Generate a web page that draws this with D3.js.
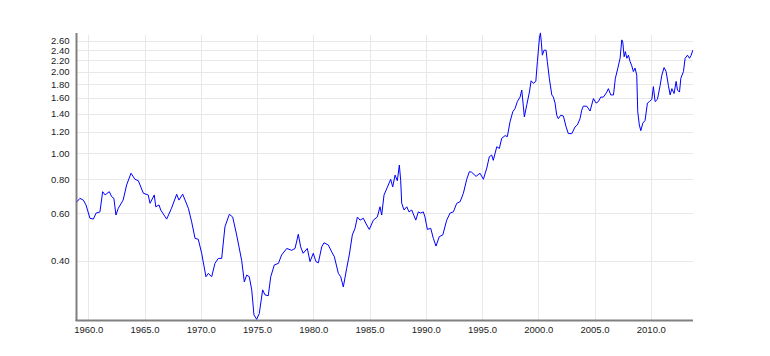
<!DOCTYPE html>
<html>
<head>
<meta charset="utf-8">
<script src="https://cdn.jsdelivr.net/npm/d3@7"></script>
<style>
  html, body { margin: 0; padding: 0; background: #fff; }
  svg { display: block; }
</style>
</head>
<body>
<svg id="chart" width="770" height="356"></svg>
<script>
const years = [1959.0,1959.26,1959.56,1959.8,1960.15,1960.45,1960.7,1961.04,1961.28,1961.5,1961.87,1962.08,1962.28,1962.46,1962.67,1963.1,1963.41,1963.8,1964.15,1964.45,1964.9,1965.33,1965.49,1965.87,1966.0,1966.29,1966.44,1966.97,1967.4,1967.86,1968.06,1968.39,1968.9,1969.19,1969.49,1969.78,1970.08,1970.46,1970.67,1970.97,1971.26,1971.56,1971.86,1972.15,1972.54,1972.84,1973.19,1973.64,1973.87,1974.08,1974.31,1974.53,1974.73,1974.97,1975.2,1975.5,1975.71,1976.0,1976.22,1976.54,1976.9,1977.19,1977.64,1978.08,1978.38,1978.67,1978.88,1979.1,1979.47,1979.71,1980.0,1980.24,1980.45,1980.75,1980.95,1981.34,1981.64,1981.87,1982.23,1982.44,1982.67,1982.97,1983.2,1983.47,1983.71,1983.92,1984.16,1984.45,1984.75,1984.98,1985.34,1985.69,1985.93,1986.08,1986.29,1986.67,1986.88,1987.06,1987.27,1987.47,1987.65,1987.77,1987.86,1988.07,1988.31,1988.51,1988.75,1989.11,1989.34,1989.55,1989.78,1989.93,1990.14,1990.44,1990.67,1990.91,1991.2,1991.51,1991.86,1992.16,1992.45,1992.75,1993.05,1993.34,1993.64,1993.87,1994.07,1994.47,1994.82,1995.12,1995.42,1995.65,1995.86,1996.0,1996.31,1996.54,1996.75,1997.05,1997.25,1997.49,1997.73,1997.93,1998.14,1998.38,1998.53,1998.67,1998.76,1998.98,1999.21,1999.36,1999.56,1999.78,1999.92,2000.1,2000.19,2000.27,2000.36,2000.51,2000.69,2000.8,2000.98,2001.2,2001.34,2001.49,2001.64,2001.78,2002.0,2002.23,2002.47,2002.67,2002.98,2003.27,2003.47,2003.71,2003.86,2004.0,2004.31,2004.6,2004.9,2005.14,2005.34,2005.55,2005.79,2006.09,2006.23,2006.44,2006.68,2006.85,2007.07,2007.27,2007.42,2007.51,2007.63,2007.74,2007.87,2008.01,2008.16,2008.31,2008.45,2008.6,2008.75,2008.84,2008.98,2009.11,2009.29,2009.49,2009.7,2009.88,2010.09,2010.23,2010.38,2010.59,2010.83,2010.98,2011.18,2011.36,2011.56,2011.72,2011.87,2012.07,2012.25,2012.37,2012.55,2012.67,2012.9,2013.05,2013.26,2013.44,2013.59,2013.73];
const values = [0.661,0.68,0.67,0.643,0.574,0.57,0.60,0.606,0.72,0.70,0.72,0.69,0.68,0.59,0.625,0.67,0.762,0.842,0.80,0.79,0.71,0.70,0.652,0.70,0.633,0.643,0.616,0.57,0.625,0.704,0.67,0.705,0.625,0.557,0.484,0.48,0.426,0.349,0.359,0.349,0.391,0.408,0.408,0.534,0.594,0.58,0.498,0.40,0.334,0.354,0.349,0.312,0.252,0.243,0.255,0.312,0.299,0.297,0.349,0.386,0.391,0.42,0.444,0.437,0.444,0.501,0.45,0.426,0.444,0.397,0.426,0.397,0.393,0.45,0.466,0.457,0.431,0.414,0.359,0.349,0.32,0.375,0.42,0.498,0.527,0.58,0.565,0.574,0.542,0.522,0.565,0.58,0.633,0.59,0.70,0.762,0.80,0.75,0.829,0.79,0.903,0.79,0.652,0.616,0.633,0.606,0.616,0.565,0.606,0.60,0.606,0.58,0.522,0.527,0.484,0.453,0.491,0.498,0.565,0.60,0.606,0.652,0.661,0.71,0.80,0.853,0.85,0.82,0.842,0.80,0.88,0.97,0.983,0.94,1.055,1.04,1.134,1.16,1.15,1.306,1.42,1.46,1.55,1.61,1.71,1.49,1.36,1.51,1.68,1.85,1.81,1.84,2.18,2.66,2.78,2.57,2.30,2.40,2.40,2.18,1.89,1.64,1.61,1.53,1.38,1.34,1.38,1.37,1.25,1.18,1.18,1.25,1.27,1.34,1.44,1.49,1.49,1.43,1.59,1.53,1.55,1.61,1.61,1.68,1.73,1.64,1.64,1.89,2.06,2.24,2.62,2.57,2.27,2.37,2.24,2.30,2.18,2.10,2.0,2.06,1.94,1.42,1.27,1.21,1.29,1.32,1.53,1.55,1.58,1.76,1.55,1.58,1.78,1.94,2.07,2.0,1.78,1.64,1.73,1.66,1.84,1.71,1.68,1.89,2.0,2.24,2.30,2.24,2.30,2.40];
const yTicks = [0.40,0.60,0.80,1.00,1.20,1.40,1.60,1.80,2.00,2.20,2.40,2.60];
const xTicks = [1960,1965,1970,1975,1980,1985,1990,1995,2000,2005,2010];

(function () {
  const svg = d3.select("#chart");
  const mLeft = 77, mRight = 693, mTop = 33, mBottom = 320;

  const x = d3.scaleLinear().domain([1959, 2013.75]).range([mLeft, mRight]);
  const y = d3.scaleLog().domain([0.2415, 2.778]).range([mBottom, mTop]);

  // gridlines
  const grid = svg.append("g").attr("stroke", "#e8e8e8").attr("stroke-width", 1);
  grid.selectAll("line.h").data(yTicks).join("line").attr("class", "h")
    .attr("x1", mLeft).attr("x2", mRight)
    .attr("y1", d => Math.round(y(d)) + 0.5).attr("y2", d => Math.round(y(d)) + 0.5);
  grid.selectAll("line.v").data(xTicks).join("line").attr("class", "v")
    .attr("y1", mTop + 2).attr("y2", mBottom)
    .attr("x1", d => Math.round(x(d)) + 0.5).attr("x2", d => Math.round(x(d)) + 0.5);

  // axes
  const yAxis = d3.axisLeft(y).tickValues(yTicks).tickFormat(d3.format(".2f")).tickSize(0).tickPadding(7);
  const xAxis = d3.axisBottom(x).tickValues(xTicks).tickFormat(d3.format(".1f")).tickSize(0).tickPadding(6);

  const gy = svg.append("g").attr("transform", `translate(${mLeft - 0.5},0)`).call(yAxis);
  const gx = svg.append("g").attr("transform", `translate(0,${mBottom})`).call(xAxis);
  [gy, gx].forEach(g => {
    g.select(".domain").remove();
    g.selectAll("text").attr("font-family", "Liberation Sans, Arial, sans-serif")
      .attr("font-size", "9.5px").attr("fill", "#222");
  });

  svg.append("line").attr("x1", mLeft - 0.5).attr("x2", mLeft - 0.5).attr("y1", mTop).attr("y2", mBottom + 1)
    .attr("stroke", "#808080").attr("stroke-width", 2);
  svg.append("line").attr("x1", mLeft - 1.5).attr("x2", mRight).attr("y1", mBottom + 0.5).attr("y2", mBottom + 0.5)
    .attr("stroke", "#808080").attr("stroke-width", 2);

  // line
  const data = years.map((yr, i) => ({ yr, v: values[i] }));
  const line = d3.line().x(d => x(d.yr)).y(d => y(d.v));
  svg.append("path").datum(data).attr("d", line)
    .attr("fill", "none").attr("stroke", "#0000ff").attr("stroke-width", 1);
})();
</script>
</body>
</html>
